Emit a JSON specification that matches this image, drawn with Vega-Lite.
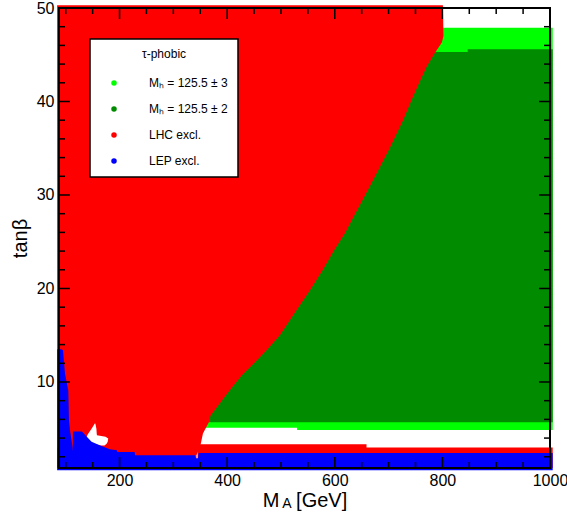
{
  "$schema": "https://vega.github.io/schema/vega-lite/v6.json",
  "width": 491,
  "height": 460,
  "autosize": {"type": "none"},
  "padding": {"left": 59, "top": 8, "right": 17, "bottom": 52},
  "background": "white",
  "config": {
    "view": {"stroke": null},
    "font": "Liberation Sans",
    "legend": {"strokeWidth": 1.5},
    "axis": {"grid": false, "labelColor": "black", "titleColor": "black", "tickColor": "black", "domainColor": "black", "labelFont": "Liberation Sans", "titleFont": "Liberation Sans"}
  },
  "datasets": {
    "lgreen": [
      {"ma": 340, "lo": 5.1, "hi": 47.9, "region": "Mₕ = 125.5 ± 3"},
      {"ma": 530, "lo": 4.86, "hi": 47.9, "region": "Mₕ = 125.5 ± 3"},
      {"ma": 1005, "lo": 4.86, "hi": 47.9, "region": "Mₕ = 125.5 ± 3"}
    ],
    "dgreen": [
      {"ma": 340, "lo": 5.7, "hi": 45.3, "region": "Mₕ = 125.5 ± 2"},
      {"ma": 847, "lo": 5.7, "hi": 45.6, "region": "Mₕ = 125.5 ± 2"},
      {"ma": 1005, "lo": 5.7, "hi": 45.6, "region": "Mₕ = 125.5 ± 2"}
    ],
    "redmain": [
      {"tb": 0.8, "xl": 84, "xr": 343, "region": "LHC excl."},
      {"tb": 2.16, "xl": 84, "xr": 343, "region": "LHC excl."},
      {"tb": 2.6, "xl": 84, "xr": 346, "region": "LHC excl."},
      {"tb": 3.4, "xl": 84, "xr": 351, "region": "LHC excl."},
      {"tb": 4.5, "xl": 84, "xr": 355, "region": "LHC excl."},
      {"tb": 5.7, "xl": 84, "xr": 366, "region": "LHC excl."},
      {"tb": 6.4, "xl": 84, "xr": 369, "region": "LHC excl."},
      {"tb": 8.0, "xl": 84, "xr": 390, "region": "LHC excl."},
      {"tb": 9.5, "xl": 84, "xr": 410, "region": "LHC excl."},
      {"tb": 10.7, "xl": 84, "xr": 427, "region": "LHC excl."},
      {"tb": 12, "xl": 84, "xr": 450, "region": "LHC excl."},
      {"tb": 13.5, "xl": 84, "xr": 475, "region": "LHC excl."},
      {"tb": 15, "xl": 84, "xr": 498, "region": "LHC excl."},
      {"tb": 17.5, "xl": 84, "xr": 527, "region": "LHC excl."},
      {"tb": 19.8, "xl": 84, "xr": 554, "region": "LHC excl."},
      {"tb": 22, "xl": 84, "xr": 578, "region": "LHC excl."},
      {"tb": 24, "xl": 84, "xr": 598, "region": "LHC excl."},
      {"tb": 25.9, "xl": 84, "xr": 619, "region": "LHC excl."},
      {"tb": 28, "xl": 84, "xr": 638, "region": "LHC excl."},
      {"tb": 29.5, "xl": 84, "xr": 652, "region": "LHC excl."},
      {"tb": 32, "xl": 84, "xr": 675, "region": "LHC excl."},
      {"tb": 35, "xl": 84, "xr": 702, "region": "LHC excl."},
      {"tb": 38, "xl": 84, "xr": 727, "region": "LHC excl."},
      {"tb": 40.2, "xl": 84, "xr": 743, "region": "LHC excl."},
      {"tb": 42, "xl": 84, "xr": 757, "region": "LHC excl."},
      {"tb": 43.75, "xl": 84, "xr": 771, "region": "LHC excl."},
      {"tb": 45.2, "xl": 84, "xr": 786, "region": "LHC excl."},
      {"tb": 46.3, "xl": 84, "xr": 799, "region": "LHC excl."},
      {"tb": 47, "xl": 84, "xr": 802, "region": "LHC excl."},
      {"tb": 50.3, "xl": 84, "xr": 801, "region": "LHC excl."}
    ],
    "redband": [
      {"ma": 345, "lo": 0.8, "hi": 3.34, "region": "LHC excl."},
      {"ma": 659, "lo": 0.8, "hi": 2.99, "region": "LHC excl."},
      {"ma": 1005, "lo": 0.8, "hi": 2.99, "region": "LHC excl."}
    ],
    "hole": [
      {"tb": 3.2, "xl": 165, "xr": 172},
      {"tb": 3.4, "xl": 152, "xr": 176},
      {"tb": 3.6, "xl": 145, "xr": 178},
      {"tb": 3.95, "xl": 138, "xr": 179},
      {"tb": 4.15, "xl": 139, "xr": 174},
      {"tb": 4.3, "xl": 140, "xr": 158},
      {"tb": 4.5, "xl": 142, "xr": 157.6},
      {"tb": 5.0, "xl": 148, "xr": 157},
      {"tb": 5.55, "xl": 154, "xr": 155}
    ],
    "blueband": [
      {"ma": 84, "lo": 0.55, "hi": 3.0, "region": "LEP excl."},
      {"ma": 108, "lo": 0.55, "hi": 3.0, "region": "LEP excl."},
      {"ma": 108.5, "lo": 0.55, "hi": 2.7, "region": "LEP excl."},
      {"ma": 113, "lo": 0.55, "hi": 2.7, "region": "LEP excl."},
      {"ma": 113.5, "lo": 0.55, "hi": 4.7, "region": "LEP excl."},
      {"ma": 130, "lo": 0.55, "hi": 4.7, "region": "LEP excl."},
      {"ma": 148, "lo": 0.55, "hi": 3.6, "region": "LEP excl."},
      {"ma": 164, "lo": 0.55, "hi": 3.2, "region": "LEP excl."},
      {"ma": 182, "lo": 0.55, "hi": 2.8, "region": "LEP excl."},
      {"ma": 195, "lo": 0.55, "hi": 2.7, "region": "LEP excl."},
      {"ma": 196, "lo": 0.55, "hi": 2.5, "region": "LEP excl."},
      {"ma": 228, "lo": 0.55, "hi": 2.5, "region": "LEP excl."},
      {"ma": 229, "lo": 0.55, "hi": 2.16, "region": "LEP excl."},
      {"ma": 340, "lo": 0.55, "hi": 2.16, "region": "LEP excl."},
      {"ma": 342, "lo": 0.55, "hi": 1.85, "region": "LEP excl."},
      {"ma": 346, "lo": 0.55, "hi": 1.85, "region": "LEP excl."},
      {"ma": 347, "lo": 0.55, "hi": 2.4, "region": "LEP excl."},
      {"ma": 1005, "lo": 0.55, "hi": 2.4, "region": "LEP excl."}
    ],
    "bluestrip": [
      {"tb": 0.8, "xl": 84, "xr": 113, "region": "LEP excl."},
      {"tb": 2.9, "xl": 84, "xr": 113, "region": "LEP excl."},
      {"tb": 4.8, "xl": 84, "xr": 108, "region": "LEP excl."},
      {"tb": 5.9, "xl": 84, "xr": 106, "region": "LEP excl."},
      {"tb": 9.1, "xl": 84, "xr": 104.8, "region": "LEP excl."},
      {"tb": 10.9, "xl": 84, "xr": 98.6, "region": "LEP excl."},
      {"tb": 12, "xl": 84, "xr": 97, "region": "LEP excl."},
      {"tb": 13.4, "xl": 84, "xr": 95, "region": "LEP excl."},
      {"tb": 13.5, "xl": 84, "xr": 92, "region": "LEP excl."}
    ],
    "xmajor": [{"v": 200}, {"v": 400}, {"v": 600}, {"v": 800}, {"v": 1000}],
    "xminor": [{"v": 100}, {"v": 150}, {"v": 250}, {"v": 300}, {"v": 350}, {"v": 450}, {"v": 500}, {"v": 550}, {"v": 650}, {"v": 700}, {"v": 750}, {"v": 850}, {"v": 900}, {"v": 950}],
    "ymajor": [{"v": 10}, {"v": 20}, {"v": 30}, {"v": 40}, {"v": 50}],
    "yminor": [{"v": 2}, {"v": 4}, {"v": 6}, {"v": 8}, {"v": 12}, {"v": 14}, {"v": 16}, {"v": 18}, {"v": 22}, {"v": 24}, {"v": 26}, {"v": 28}, {"v": 32}, {"v": 34}, {"v": 36}, {"v": 38}, {"v": 42}, {"v": 44}, {"v": 46}, {"v": 48}],
    "sub": [{"ma": 511, "tb": -3.5, "t": "A"}]
  },
  "layer": [
    {
      "data": {"name": "lgreen"},
      "mark": {"type": "area", "interpolate": "step-after", "clip": false},
      "encoding": {
        "x": {"field": "ma", "type": "quantitative", "scale": {"domain": [87.5, 1000], "nice": false, "zero": false},
          "axis": {"orient": "bottom", "values": [200, 400, 600, 800, 1000], "format": "d", "ticks": false, "domain": false, "labelFontSize": 16, "labelPadding": 4, "labelFlush": false, "title": "M\u00a0\u00a0\u00a0[GeV]", "titleFontSize": 20, "titleFontWeight": "normal", "titlePadding": 2}},
        "y": {"field": "hi", "type": "quantitative", "stack": null, "scale": {"domain": [0.8, 50], "nice": false, "zero": false},
          "axis": {"orient": "left", "values": [10, 20, 30, 40, 50], "ticks": false, "domain": false, "labelFontSize": 16, "labelPadding": 5, "labelFlush": false, "title": "tanβ", "titleFontSize": 20, "titleFontWeight": "normal", "titlePadding": 6}},
        "y2": {"field": "lo"},
        "color": {"field": "region", "type": "nominal",
          "scale": {"domain": ["Mₕ = 125.5 ± 3", "Mₕ = 125.5 ± 2", "LHC excl.", "LEP excl."], "range": ["#00ff00", "#008b00", "#ff0000", "#0000ff"]},
          "legend": {"title": "τ-phobic", "orient": "none", "legendX": 31, "legendY": 31, "fillColor": "white", "strokeColor": "black", "padding": 10, "symbolType": "circle", "symbolSize": 30, "symbolStrokeWidth": 0, "symbolOpacity": 1, "symbolOffset": 8, "labelOffset": 29, "labelFontSize": 12, "labelFont": "Liberation Sans", "labelColor": "black", "labelLimit": 300, "titleFont": "Liberation Sans", "titleFontSize": 12, "titleFontWeight": "normal", "titleColor": "black", "titleAnchor": "middle", "titlePadding": 16, "rowPadding": 14}}
      }
    },
    {
      "data": {"name": "dgreen"},
      "mark": {"type": "area", "interpolate": "step-after", "clip": false},
      "encoding": {
        "x": {"field": "ma", "type": "quantitative"},
        "y": {"field": "hi", "type": "quantitative", "stack": null},
        "y2": {"field": "lo"},
        "color": {"field": "region", "type": "nominal"}
      }
    },
    {
      "data": {"name": "redmain"},
      "mark": {"type": "area", "orient": "horizontal", "clip": false},
      "encoding": {
        "y": {"field": "tb", "type": "quantitative"},
        "x": {"field": "xl", "type": "quantitative", "stack": null},
        "x2": {"field": "xr"},
        "color": {"field": "region", "type": "nominal"}
      }
    },
    {
      "data": {"name": "redband"},
      "mark": {"type": "area", "interpolate": "step-after", "clip": false},
      "encoding": {
        "x": {"field": "ma", "type": "quantitative"},
        "y": {"field": "hi", "type": "quantitative", "stack": null},
        "y2": {"field": "lo"},
        "color": {"field": "region", "type": "nominal"}
      }
    },
    {
      "data": {"name": "hole"},
      "mark": {"type": "area", "orient": "horizontal", "color": "white", "clip": false},
      "encoding": {
        "y": {"field": "tb", "type": "quantitative"},
        "x": {"field": "xl", "type": "quantitative", "stack": null},
        "x2": {"field": "xr"}
      }
    },
    {
      "data": {"name": "blueband"},
      "mark": {"type": "area", "clip": false},
      "encoding": {
        "x": {"field": "ma", "type": "quantitative"},
        "y": {"field": "hi", "type": "quantitative", "stack": null},
        "y2": {"field": "lo"},
        "color": {"field": "region", "type": "nominal"}
      }
    },
    {
      "data": {"name": "bluestrip"},
      "mark": {"type": "area", "orient": "horizontal", "clip": false},
      "encoding": {
        "y": {"field": "tb", "type": "quantitative"},
        "x": {"field": "xl", "type": "quantitative", "stack": null},
        "x2": {"field": "xr"},
        "color": {"field": "region", "type": "nominal"}
      }
    },
    {
      "data": {"name": "xmajor"},
      "mark": {"type": "rule", "color": "black", "strokeWidth": 1.5},
      "encoding": {"x": {"field": "v", "type": "quantitative"}, "y": {"datum": 0.8}, "y2": {"datum": 1.977}}
    },
    {
      "data": {"name": "xmajor"},
      "mark": {"type": "rule", "color": "black", "strokeWidth": 1.5},
      "encoding": {"x": {"field": "v", "type": "quantitative"}, "y": {"datum": 50}, "y2": {"datum": 48.823}}
    },
    {
      "data": {"name": "xminor"},
      "mark": {"type": "rule", "color": "black", "strokeWidth": 1.5},
      "encoding": {"x": {"field": "v", "type": "quantitative"}, "y": {"datum": 0.8}, "y2": {"datum": 1.442}}
    },
    {
      "data": {"name": "xminor"},
      "mark": {"type": "rule", "color": "black", "strokeWidth": 1.5},
      "encoding": {"x": {"field": "v", "type": "quantitative"}, "y": {"datum": 50}, "y2": {"datum": 49.358}}
    },
    {
      "data": {"name": "ymajor"},
      "mark": {"type": "rule", "color": "black", "strokeWidth": 1.5},
      "encoding": {"y": {"field": "v", "type": "quantitative"}, "x": {"datum": 87.5}, "x2": {"datum": 107.94}}
    },
    {
      "data": {"name": "ymajor"},
      "mark": {"type": "rule", "color": "black", "strokeWidth": 1.5},
      "encoding": {"y": {"field": "v", "type": "quantitative"}, "x": {"datum": 1000}, "x2": {"datum": 979.56}}
    },
    {
      "data": {"name": "yminor"},
      "mark": {"type": "rule", "color": "black", "strokeWidth": 1.5},
      "encoding": {"y": {"field": "v", "type": "quantitative"}, "x": {"datum": 87.5}, "x2": {"datum": 98.65}}
    },
    {
      "data": {"name": "yminor"},
      "mark": {"type": "rule", "color": "black", "strokeWidth": 1.5},
      "encoding": {"y": {"field": "v", "type": "quantitative"}, "x": {"datum": 1000}, "x2": {"datum": 988.85}}
    },
    {
      "data": {"values": [{}]},
      "mark": {"type": "rect", "fillOpacity": 0, "stroke": "black", "strokeWidth": 2},
      "encoding": {"x": {"datum": 87.5}, "x2": {"datum": 1000}, "y": {"datum": 0.8}, "y2": {"datum": 50}}
    },
    {
      "data": {"name": "sub"},
      "mark": {"type": "text", "fontSize": 14, "font": "Liberation Sans", "align": "center", "baseline": "alphabetic", "color": "black", "clip": false},
      "encoding": {
        "x": {"field": "ma", "type": "quantitative"},
        "y": {"field": "tb", "type": "quantitative"},
        "text": {"field": "t"}
      }
    }
  ]
}
